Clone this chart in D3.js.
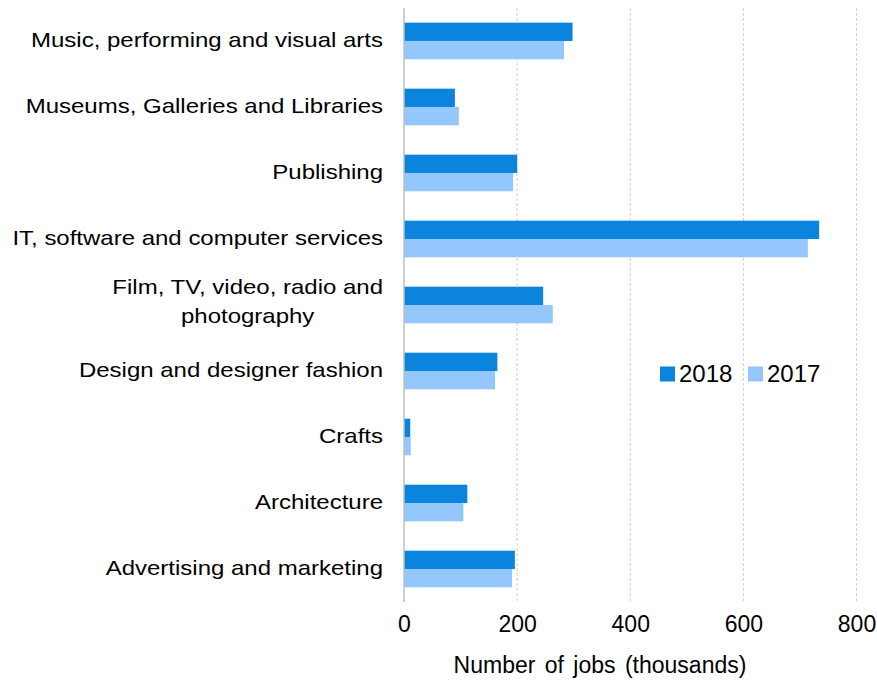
<!DOCTYPE html>
<html><head><meta charset="utf-8">
<script src="https://cdn.jsdelivr.net/npm/d3@7/dist/d3.min.js"></script>
<style>body{margin:0;background:#fff}svg{display:block}text{font-family:"Liberation Sans",Arial,sans-serif;fill:#000}</style>
</head><body>
<svg id="c" width="877" height="681"></svg>
<script>
const categories = ["Music, performing and visual arts","Museums, Galleries and Libraries","Publishing","IT, software and computer services","Film, TV, video, radio and photography","Design and designer fashion","Crafts","Architecture","Advertising and marketing"];
const values2018 = [298, 90, 200, 734, 246, 165, 11, 112, 196];
const values2017 = [283, 97, 193, 714, 263, 161, 12, 105, 191];
const series = ["2018","2017"];
const xTicks = [0,200,400,600,800];
const colors = {"2018":"#0B84DE","2017":"#94C8FC"};

const svg = d3.select("#c");
const m = {l:404, r:856.5, t:8, b:602};
const x = d3.scaleLinear().domain([0,800]).range([m.l, m.r]);
const y = d3.scaleBand().domain(categories).range([m.t, m.b]).paddingInner(0.445).paddingOuter(0.222);
const ys = d3.scaleBand().domain(series).range([0, y.bandwidth()]);

// gridlines
svg.append("g").selectAll("line").data(xTicks.slice(1)).join("line")
  .attr("x1", d=>x(d)).attr("x2", d=>x(d)).attr("y1", m.t).attr("y2", m.b)
  .attr("stroke","#d0d0d0").attr("stroke-width",1).attr("stroke-dasharray","3,2");

// bars
const data = categories.map((c,i)=>({c, v:{"2018":values2018[i],"2017":values2017[i]}}));
const g = svg.append("g");
series.forEach(s=>{
  g.selectAll(null).data(data).join("rect")
    .attr("x", x(0)).attr("y", d=>y(d.c)+ys(s))
    .attr("width", d=>x(d.v[s])-x(0)).attr("height", ys.bandwidth())
    .attr("fill", colors[s]);
});

// axis line
svg.append("line").attr("x1", x(0)).attr("x2", x(0)).attr("y1", m.t).attr("y2", m.b)
  .attr("stroke","#bfbfbf").attr("stroke-width",1.5);

// x axis
const xa = svg.append("g").attr("transform",`translate(0,${m.b})`)
  .call(d3.axisBottom(x).tickValues(xTicks).tickSize(0).tickPadding(13.5));
xa.select(".domain").remove();
xa.selectAll("text").style("font-size","23px").style("font-family",'"Liberation Sans",Arial,sans-serif').attr("fill","#000");

svg.append("text").attr("x", 600).attr("y", 673).attr("text-anchor","middle")
  .style("font-size","23px").style("word-spacing","3px").text("Number of jobs (thousands)");

// category labels (horizontally stretched like the reference)
const sx = 1.2;
const lab = svg.append("g");
function label(text, xr, yb, anchor) {
  return lab.append("text").attr("transform",`translate(${xr},${yb}) scale(${sx},1)`)
    .attr("text-anchor",anchor).style("font-size","20px").text(text);
}
categories.forEach(c=>{
  const cy = y(c)+y.bandwidth()/2;
  if (c.startsWith("Film")) {
    const t1 = label("Film, TV, video, radio and", 383, cy-11, "end");
    const w = t1.node().getComputedTextLength()*sx;
    label("photography", 383-w/2, cy+18, "middle");
  } else {
    label(c, 383, cy+6, "end");
  }
});

// legend
const lg = svg.append("g");
const lx = [660, 748];
series.forEach((s,i)=>{
  lg.append("rect").attr("x",lx[i]).attr("y",366.5).attr("width",15).attr("height",15).attr("fill",colors[s]);
  lg.append("text").attr("x",lx[i]+19).attr("y",382).style("font-size","24px").text(s);
});
</script>
</body></html>
